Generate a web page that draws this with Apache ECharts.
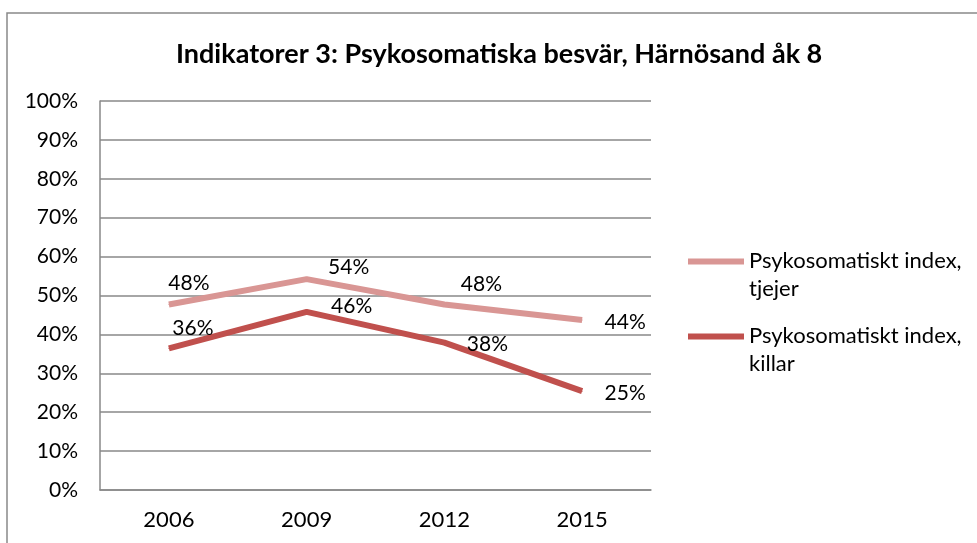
<!DOCTYPE html>
<html>
<head>
<meta charset="utf-8">
<script src="https://cdn.jsdelivr.net/npm/echarts@6/dist/echarts.min.js"></script>
<style>
  html, body { margin: 0; padding: 0; background: #fff; }
  #chart { width: 977px; height: 543px; }
</style>
</head>
<body>
<div id="chart"></div>
<script>
const years = ['2006', '2009', '2012', '2015']
const tjejer = [47.7, 54.2, 47.7, 43.7]
const killar = [36.4, 45.8, 37.9, 25.4]
const seriesNames = ['Psykosomatiskt index,\ntjejer', 'Psykosomatiskt index,\nkillar']

// label offsets (px) from each point, like the Excel placement
const tjejerOffsets = [[20, -21], [42, -12], [37, -20], [43, 2]]
const killarOffsets = [[24, -20], [45, -6], [43, 2], [43, 2]]

const font = 'Lato, "Open Sans", sans-serif'
const gray = '#898989'

const toData = (values, offsets) => values.map((v, i) => ({
    value: v,
    label: { offset: offsets[i] }
}))

const makeSeries = (name, color, values, offsets) => ({
    name,
    type: 'line',
    data: toData(values, offsets),
    symbol: 'circle',
    symbolSize: 1,
    itemStyle: { color },
    lineStyle: { color, width: 6 },
    label: {
        show: true,
        position: 'inside',
        color: '#000',
        fontFamily: font,
        fontSize: 21,
        formatter: p => Math.round(p.value) + '%'
    },
    emphasis: { disabled: true },
    z: 3
})

const chart = echarts.init(document.querySelector('#chart'))
const option = {
    animation: false,
    title: {
        text: 'Indikatorer 3: Psykosomatiska besvär, Härnösand åk 8',
        left: 171,
        top: 36,
        textStyle: { fontFamily: font, fontSize: 27, fontWeight: 'bold', color: '#000' }
    },
    grid: { left: 100, right: 326, top: 101, bottom: 53 },
    xAxis: {
        type: 'category',
        data: years,
        boundaryGap: true,
        axisLine: { lineStyle: { color: gray, width: 1.5 } },
        axisTick: { show: false },
        axisLabel: { color: '#000', fontFamily: font, fontSize: 22, margin: 19 }
    },
    yAxis: {
        type: 'value',
        min: 0,
        max: 100,
        interval: 10,
        axisLine: { show: true, lineStyle: { color: gray, width: 1.5 } },
        axisTick: { show: false },
        splitLine: { lineStyle: { color: gray, width: 1.5 } },
        axisLabel: { color: '#000', fontFamily: font, fontSize: 21, margin: 22, formatter: '{value}%' }
    },
    legend: {
        orient: 'vertical',
        left: 688,
        top: 247,
        padding: 0,
        itemWidth: 56,
        itemHeight: 33,
        itemGap: 19,
        symbolKeepAspect: false,
        icon: 'path://M0,0L56,0L56,6L0,6Z M0,33L56,33',
        itemStyle: { borderWidth: 0 },
        textStyle: { color: '#000', fontFamily: font, fontSize: 22, lineHeight: 28 },
        data: seriesNames
    },
    graphic: [{
        type: 'rect',
        shape: { x: 7, y: 13, width: 1000, height: 600 },
        style: { fill: 'none', stroke: gray, lineWidth: 1.5 },
        silent: true
    }],
    series: [
        makeSeries(seriesNames[0], '#D99694', tjejer, tjejerOffsets),
        makeSeries(seriesNames[1], '#C0504D', killar, killarOffsets)
    ]
}
chart.setOption(option)
</script>
</body>
</html>
